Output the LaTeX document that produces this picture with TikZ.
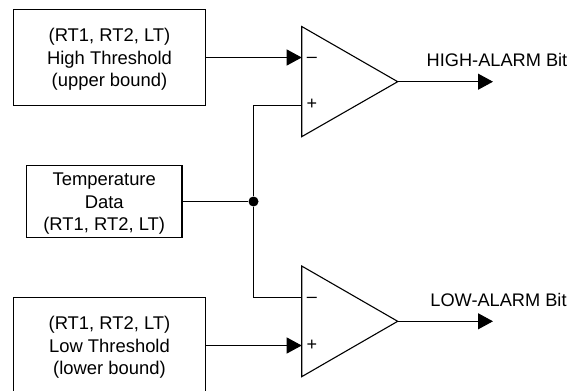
\documentclass[tikz,border=0pt]{standalone}
\usepackage{fontspec}
\setmainfont{Liberation Sans}
\usetikzlibrary{arrows.meta}
\tikzset{
  x=1pt,y=-1pt,
  wire/.style={line width=1.1pt,black},
  sig/.style={wire,-{Triangle[length=15pt,width=16pt]}},
  box/.style={draw=black,line width=1.1pt,align=center,inner sep=0pt,font=\fontsize{18.4}{22.4}\selectfont,fill=white},
  amp/.style={draw=black,line width=1.1pt,line join=miter},
  lab/.style={inner sep=0pt,font=\fontsize{18.2}{22}\selectfont},
  pol/.style={inner sep=0pt,font=\fontsize{18}{18}\selectfont},
  dot/.style={circle,fill=black,inner sep=0pt,minimum size=10pt}
}
\newcommand{\toprl}{\rule{0pt}{17pt}}
\begin{document}
\begin{tikzpicture}
\useasboundingbox (0,0) rectangle (571,391);
\node[box,minimum width=192pt,minimum height=96pt] (hi) at (109.5,57.5) {\toprl(RT1, RT2, LT)\\High Threshold\\(upper bound)};
\node[box,minimum width=155.5pt,minimum height=72pt] (temp) at (104.2,201.5) {\toprl Temperature\\Data\\(RT1, RT2, LT)};
\node[box,minimum width=192pt,minimum height=96pt] (lo) at (109.5,345.5) {\toprl(RT1, RT2, LT)\\Low Threshold\\(lower bound)};
\draw[amp] (301.7,26.5) coordinate (a1t) -- (397.7,81.7) coordinate (a1o) -- (301.7,136.7) coordinate (a1b) -- cycle;
\draw[amp] (301.7,266) coordinate (a2t) -- (397.7,321.3) coordinate (a2o) -- (301.7,376.7) coordinate (a2b) -- cycle;
\coordinate (a1m) at (301.7,57.5);
\coordinate (a1p) at (301.7,105.5);
\coordinate (a2m) at (301.7,297.5);
\coordinate (a2p) at (301.7,345.5);
\node[dot] (j) at (253.5,201.5) {};
\coordinate (o1) at (493,81.7);
\coordinate (o2) at (493,321.3);
\draw[sig] (hi.east |- a1m) -- (a1m);
\draw[sig] (lo.east |- a2p) -- (a2p);
\draw[wire] (temp.east) -- (j);
\draw[wire] (a1p) -| (j);
\draw[wire] (a2m) -| (j);
\draw[sig] (a1o) -- (o1);
\draw[sig] (a2o) -- (o2);
\node[pol] (m1) at (312,59.5) {\textendash};
\node[pol] (p1) at (312,104.7) {+};
\node[pol] (m2) at (312,299.5) {\textendash};
\node[pol] (p2) at (312,345) {+};
\node[lab] (hl) at (497,59.5) {HIGH-ALARM Bit};
\node[lab] (ll) at (498.5,300) {LOW-ALARM Bit};
\end{tikzpicture}
\end{document}
